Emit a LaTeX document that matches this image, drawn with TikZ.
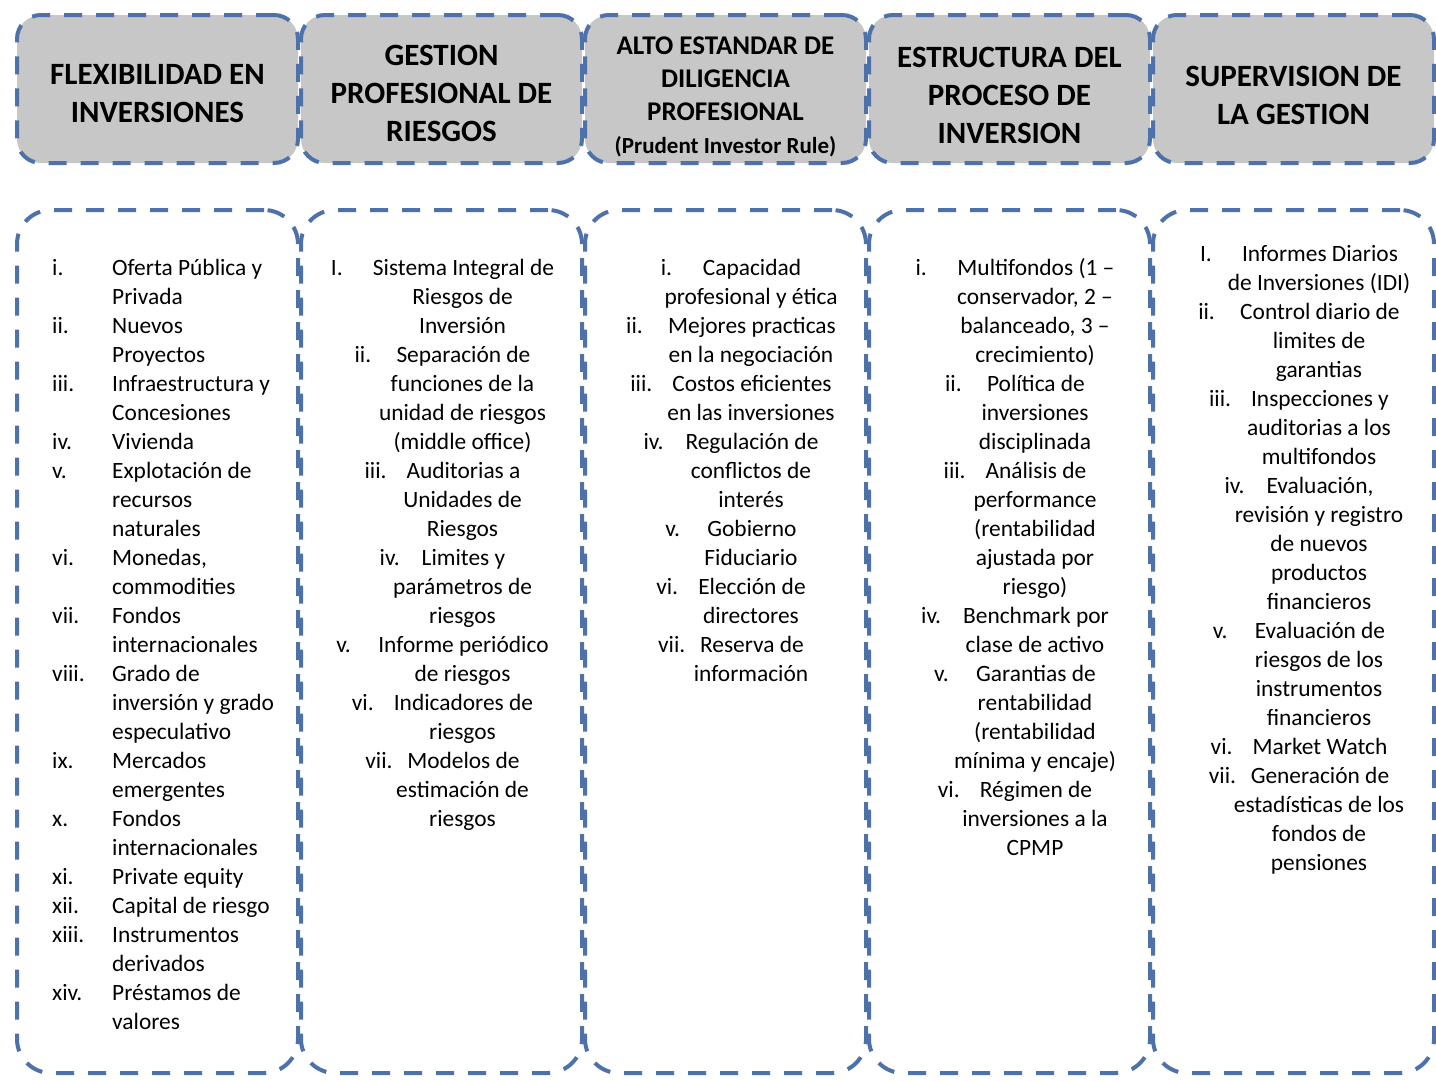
\documentclass[tikz,border=0pt]{standalone}
\usepackage{fontspec}
\setmainfont{Carlito}
\usepackage{tikz}
\usetikzlibrary{positioning}
\definecolor{lineblue}{RGB}{79,113,170}
\definecolor{headgray}{RGB}{199,199,199}
\newcommand{\rnum}[1]{\makebox[42pt][l]{#1}}
\newcommand{\contline}{\hspace*{40pt}}

\begin{document}
\begin{tikzpicture}[
    x=1pt, y=1pt,
    node distance=3pt,
    frame/.style={rectangle, draw=lineblue, line width=4pt, dash pattern=on 18pt off 14pt, outer sep=0pt, minimum width=281pt},
    head/.style={frame, fill=headgray, rounded corners=24pt, minimum height=148pt},
    title/.style={align=center, inner sep=0pt, font=\bfseries\fontsize{31}{38}\selectfont},
    panel/.style={frame, fill=white, rounded corners=34pt, minimum height=863pt},
    items/.style={anchor=north, inner sep=0pt, font=\fontsize{23.4}{29}\selectfont}
]
\useasboundingbox (0,0) rectangle (1436,-1080);

% Header row
\node[head] (flexhead) at (157.5,-89) {};
\node[head, right=of flexhead] (riskhead) {};
\node[head, right=of riskhead] (dilhead) {};
\node[head, right=of dilhead] (prochead) {};
\node[head, right=of prochead] (suphead) {};

\node[title] (flextitle) at ([yshift=-5pt]flexhead.center) {FLEXIBILIDAD EN\\INVERSIONES};
\node[title] (risktitle) at ([yshift=-4pt]riskhead.center) {GESTION\\PROFESIONAL DE\\RIESGOS};
\node[title, font=\bfseries\fontsize{27}{33}\selectfont] (diltitle) at ([yshift=-8pt]dilhead.center) {ALTO ESTANDAR DE\\DILIGENCIA\\PROFESIONAL\\{\fontsize{23}{28}\selectfont(Prudent Investor Rule)}};
\node[title] (proctitle) at ([yshift=-6pt]prochead.center) {ESTRUCTURA DEL\\PROCESO DE\\INVERSION};
\node[title] (suptitle) at ([yshift=-6pt]suphead.center) {SUPERVISION DE\\LA GESTION};

% Panels under each header
\node[panel, below=47pt of flexhead] (flexbody) {};
\node[panel, below=47pt of riskhead] (riskbody) {};
\node[panel, below=47pt of dilhead] (dilbody) {};
\node[panel, below=47pt of prochead] (procbody) {};
\node[panel, below=47pt of suphead] (supbody) {};

% Lists
\node[items, anchor=north west] (flexlist) at ([xshift=35pt, yshift=-45pt]flexbody.north west) {%
\begin{tabular}[t]{@{}p{60pt}@{}l@{}}
i. & Oferta Pública y\\
   & Privada\\
ii. & Nuevos\\
   & Proyectos\\
iii. & Infraestructura y\\
   & Concesiones\\
iv. & Vivienda\\
v. & Explotación de\\
   & recursos\\
   & naturales\\
vi. & Monedas,\\
   & commodities\\
vii. & Fondos\\
   & internacionales\\
viii. & Grado de\\
   & inversión y grado\\
   & especulativo\\
ix. & Mercados\\
   & emergentes\\
x. & Fondos\\
   & internacionales\\
xi. & Private equity\\
xii. & Capital de riesgo\\
xiii. & Instrumentos\\
   & derivados\\
xiv. & Préstamos de\\
   & valores
\end{tabular}};

\node[items] (risklist) at ([xshift=1pt, yshift=-45pt]riskbody.north) {%
\begin{tabular}[t]{@{}c@{}}
\rnum{I.}Sistema Integral de\\
\contline Riesgos de\\
\contline Inversión\\
\rnum{ii.}Separación de\\
\contline funciones de la\\
\contline unidad de riesgos\\
\contline (middle office)\\
\rnum{iii.}Auditorias a\\
\contline Unidades de\\
\contline Riesgos\\
\rnum{iv.}Limites y\\
\contline parámetros de\\
\contline riesgos\\
\rnum{v.}Informe periódico\\
\contline de riesgos\\
\rnum{vi.}Indicadores de\\
\contline riesgos\\
\rnum{vii.}Modelos de\\
\contline estimación de\\
\contline riesgos
\end{tabular}};

\node[items] (dillist) at ([xshift=5.5pt, yshift=-45pt]dilbody.north) {%
\begin{tabular}[t]{@{}c@{}}
\rnum{i.}Capacidad\\
\contline profesional y ética\\
\rnum{ii.}Mejores practicas\\
\contline en la negociación\\
\rnum{iii.}Costos eficientes\\
\contline en las inversiones\\
\rnum{iv.}Regulación de\\
\contline conflictos de\\
\contline interés\\
\rnum{v.}Gobierno\\
\contline Fiduciario\\
\rnum{vi.}Elección de\\
\contline directores\\
\rnum{vii.}Reserva de\\
\contline información
\end{tabular}};

\node[items] (proclist) at ([xshift=5.5pt, yshift=-45pt]procbody.north) {%
\begin{tabular}[t]{@{}c@{}}
\rnum{i.}Multifondos (1 --\\
\contline conservador, 2 --\\
\contline balanceado, 3 --\\
\contline crecimiento)\\
\rnum{ii.}Política de\\
\contline inversiones\\
\contline disciplinada\\
\rnum{iii.}Análisis de\\
\contline performance\\
\contline (rentabilidad\\
\contline ajustada por\\
\contline riesgo)\\
\rnum{iv.}Benchmark por\\
\contline clase de activo\\
\rnum{v.}Garantias de\\
\contline rentabilidad\\
\contline (rentabilidad\\
\contline mínima y encaje)\\
\rnum{vi.}Régimen de\\
\contline inversiones a la\\
\contline CPMP
\end{tabular}};

\node[items] (suplist) at ([xshift=5.5pt, yshift=-31pt]supbody.north) {%
\begin{tabular}[t]{@{}c@{}}
\rnum{I.}Informes Diarios\\
\contline de Inversiones (IDI)\\
\rnum{ii.}Control diario de\\
\contline limites de\\
\contline garantias\\
\rnum{iii.}Inspecciones y\\
\contline auditorias a los\\
\contline multifondos\\
\rnum{iv.}Evaluación,\\
\contline revisión y registro\\
\contline de nuevos\\
\contline productos\\
\contline financieros\\
\rnum{v.}Evaluación de\\
\contline riesgos de los\\
\contline instrumentos\\
\contline financieros\\
\rnum{vi.}Market Watch\\
\rnum{vii.}Generación de\\
\contline estadísticas de los\\
\contline fondos de\\
\contline pensiones
\end{tabular}};

\end{tikzpicture}
\end{document}
